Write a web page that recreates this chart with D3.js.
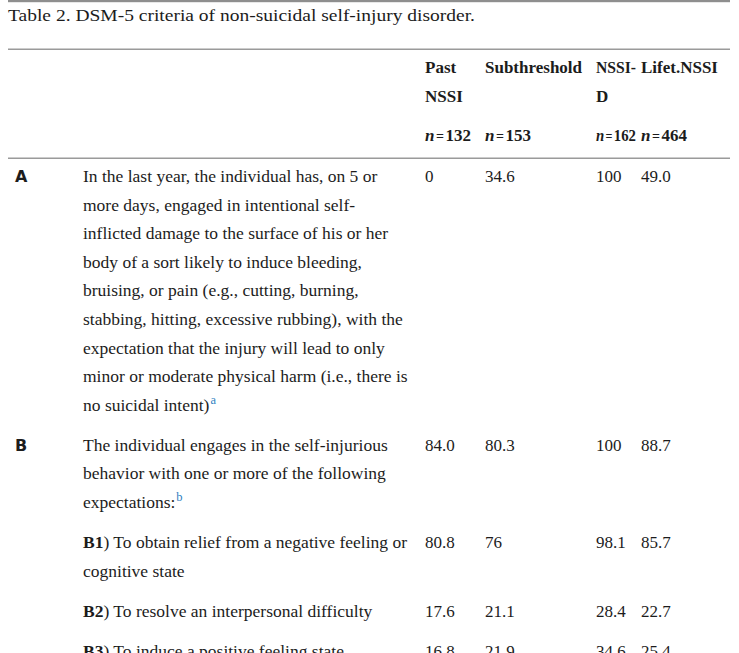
<!DOCTYPE html>
<html>
<head>
<meta charset="utf-8">
<script src="https://cdn.jsdelivr.net/npm/d3@7"></script>
<style>
  html, body { margin: 0; padding: 0; background: #fff; }
  svg { display: block; }
  text { font-family: "Liberation Serif", "Times New Roman", serif; fill: #1c1c1c; }
</style>
</head>
<body>
<svg id="main-canvas" width="739" height="653"></svg>
<script>
// ---- data ----
const title = "Table 2. DSM-5 criteria of non-suicidal self-injury disorder."
const groups = ["Past NSSI", "Subthreshold", "NSSI-D", "Lifet.NSSI"]
const groupHeaderLines = [["Past", "NSSI"], ["Subthreshold"], ["NSSI-", "D"], ["Lifet.NSSI"]]
const groupSizes = [132, 153, 162, 464]

const criteria = ["A", "B", "B1", "B2", "B3"]
const criteriaText = [
    ["In the last year, the individual has, on 5 or",
     "more days, engaged in intentional self-",
     "inflicted damage to the surface of his or her",
     "body of a sort likely to induce bleeding,",
     "bruising, or pain (e.g., cutting, burning,",
     "stabbing, hitting, excessive rubbing), with the",
     "expectation that the injury will lead to only",
     "minor or moderate physical harm (i.e., there is",
     "no suicidal intent)"],
    ["The individual engages in the self-injurious",
     "behavior with one or more of the following",
     "expectations:"],
    [") To obtain relief from a negative feeling or",
     "cognitive state"],
    [") To resolve an interpersonal difficulty"],
    [") To induce a positive feeling state"]
]
const criteriaNotes = ["a", "b", "", "", ""]

// percentages, one array per group (kept as printed)
const pastNSSI     = ["0",    "84.0", "80.8", "17.6", "16.8"]
const subthreshold = ["34.6", "80.3", "76",   "21.1", "21.9"]
const nssiD        = ["100",  "100",  "98.1", "28.4", "34.6"]
const lifetNSSI    = ["49.0", "88.7", "85.7", "22.7", "25.4"]
const groupValues = [pastNSSI, subthreshold, nssiD, lifetNSSI]

// ---- layout ----
var W = 739, H = 653
var lineH = 28.6
var rowGap = 11.4
var tableRight = 730
var svg = d3.select("#main-canvas")

var xCol = d3.scaleOrdinal()
    .domain(groups)
    .range([425, 485, 596, 641])

// room a column's text may use before it runs into the next column
function colRoom(i) {
    var next = i < groups.length - 1 ? xCol(groups[i + 1]) : tableRight
    return next - xCol(groups[i]) - 5
}
// squeeze a text into its column when the font is wider than the original
function fitTo(sel, room) {
    var w = sel.node().getComputedTextLength()
    if (w > room) sel.attr("textLength", room).attr("lengthAdjust", "spacingAndGlyphs")
}

// vertical position in "line units": each row takes its lines plus a gap
var rowStart = []
var acc = 0
criteria.forEach(function (c, i) {
    rowStart.push(acc)
    acc += criteriaText[i].length + rowGap / lineH
})
var yLine = d3.scaleLinear()
    .domain([0, 1])
    .range([182, 182 + lineH])

// rules
svg.append("rect").attr("x", 8).attr("y", 0).attr("width", tableRight - 8).attr("height", 2.2).attr("fill", "#8e8e8e")
svg.append("rect").attr("x", 8).attr("y", 48.5).attr("width", tableRight - 8).attr("height", 1.5).attr("fill", "#9a9a9a")
svg.append("rect").attr("x", 8).attr("y", 157.5).attr("width", tableRight - 8).attr("height", 1.5).attr("fill", "#9a9a9a")

// title
svg.append("text")
    .attr("x", 8).attr("y", 21)
    .attr("font-size", 17.5)
    .attr("textLength", 467).attr("lengthAdjust", "spacingAndGlyphs")
    .text(title)

// header
var header = svg.append("g").attr("class", "header")
groups.forEach(function (g, i) {
    header.selectAll(null)
        .data(groupHeaderLines[i])
        .enter()
        .append("text")
        .attr("x", xCol(g))
        .attr("y", function (d, j) { return 73 + j * 29 })
        .attr("font-size", 17)
        .attr("font-weight", "bold")
        .text(function (d) { return d })
        .each(function () { fitTo(d3.select(this), colRoom(i)) })

    var t = header.append("text")
        .attr("x", xCol(g)).attr("y", 141)
        .attr("font-size", 17)
        .attr("font-weight", "bold")
    t.append("tspan").attr("font-style", "italic").text("n")
    t.append("tspan").attr("dx", 1.5).attr("font-size", 14).text("=")
    t.append("tspan").attr("dx", 1.5).text(groupSizes[i])
    fitTo(t, colRoom(i))
})

// body rows
var body = svg.append("g").attr("class", "body")
criteria.forEach(function (c, i) {
    var y0 = yLine(rowStart[i])
    var sub = c.length > 1

    if (!sub) {
        body.append("text")
            .attr("x", 15).attr("y", y0)
            .attr("font-size", 16)
            .attr("font-weight", "bold")
            .style("font-family", "'DejaVu Sans', sans-serif")
            .text(c)
    }

    criteriaText[i].forEach(function (line, j) {
        var t = body.append("text")
            .attr("x", 83)
            .attr("y", yLine(rowStart[i] + j))
            .attr("font-size", 17.5)
        if (sub && j === 0) {
            t.append("tspan").attr("font-weight", "bold").text(c)
        }
        t.append("tspan").text(line)
        if (j === criteriaText[i].length - 1 && criteriaNotes[i]) {
            t.append("tspan")
                .attr("dx", 1).attr("dy", -7)
                .attr("font-size", 12.5)
                .style("fill", "#2f7fc1")
                .text(criteriaNotes[i])
        }
    })

    groups.forEach(function (g, k) {
        body.append("text")
            .attr("x", xCol(g))
            .attr("y", y0)
            .attr("font-size", 17)
            .text(groupValues[k][i])
    })
})
</script>
</body>
</html>
